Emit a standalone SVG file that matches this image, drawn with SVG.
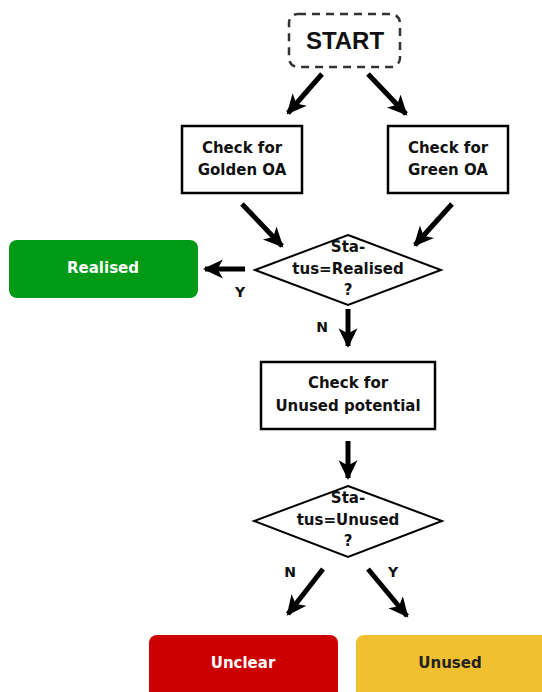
<svg xmlns="http://www.w3.org/2000/svg" width="542" height="692" viewBox="0 0 542 692">
<style>
text{font-family:"DejaVu Sans","Liberation Sans",sans-serif;font-weight:bold;text-anchor:middle;dominant-baseline:central;}
.t{font-size:15px;fill:#111;}
.box{fill:#fff;stroke:#000;stroke-width:2.5;}
.dia{fill:#fff;stroke:#000;stroke-width:2;}
.lbl{font-size:14px;fill:#111;}
.conn line{stroke:#000;stroke-width:5;marker-end:url(#ah);}
.w{fill:#fff;font-size:15px;}
</style>
<defs>
<marker id="ah" markerUnits="userSpaceOnUse" viewBox="0 0 20 20" refX="17" refY="10" markerWidth="21" markerHeight="21" orient="auto">
<path d="M0,1 L19,10 L0,19 L5,10 Z" fill="#000"/>
</marker>
</defs>
<g id="start">
<rect x="289" y="14" width="111" height="53" rx="9" fill="#fff" stroke="#333" stroke-width="2.5" stroke-dasharray="8,6"/>
<text x="345" y="40" style="font-size:24px;font-family:'Liberation Sans',Arial,sans-serif" fill="#111">START</text>
</g>
<g id="golden">
<rect class="box" x="182" y="126" width="120" height="67"/>
<text class="t" x="242" y="148">Check for</text>
<text class="t" x="242" y="170">Golden OA</text>
</g>
<g id="green">
<rect class="box" x="388" y="126" width="120" height="67"/>
<text class="t" x="448" y="148">Check for</text>
<text class="t" x="448" y="170">Green OA</text>
</g>
<g id="dec1">
<polygon class="dia" points="348,235 441,270 348,305 255,270"/>
<text class="t" x="348" y="247">Sta-</text>
<text class="t" x="348" y="269">tus=Realised</text>
<text class="t" x="348" y="290">?</text>
</g>
<g id="realised">
<rect x="9" y="240" width="189" height="58" rx="8" fill="#009a17"/>
<text class="w" x="103" y="268">Realised</text>
</g>
<g id="unusedcheck">
<rect class="box" x="261" y="362" width="174" height="67"/>
<text class="t" x="348" y="383">Check for</text>
<text class="t" x="348" y="406">Unused potential</text>
</g>
<g id="dec2">
<polygon class="dia" points="348,486 442,521 348,557 254,521"/>
<text class="t" x="348" y="498">Sta-</text>
<text class="t" x="348" y="520">tus=Unused</text>
<text class="t" x="348" y="541">?</text>
</g>
<g id="unclear">
<rect x="149" y="635" width="189" height="70" rx="8" fill="#cc0000"/>
<text class="w" x="243" y="663">Unclear</text>
</g>
<g id="unused">
<rect x="356" y="635" width="200" height="70" rx="8" fill="#f0c030"/>
<text x="450" y="663" style="font-size:15px" fill="#222">Unused</text>
</g>
<g class="conn" id="connectors">
<line x1="322" y1="74" x2="288" y2="113"/>
<line x1="368" y1="74" x2="406" y2="114"/>
<line x1="242" y1="204" x2="282" y2="246"/>
<line x1="452" y1="204" x2="415" y2="245"/>
<line x1="245" y1="269" x2="205" y2="269"/>
<line x1="348" y1="309" x2="348" y2="346"/>
<line x1="348" y1="441" x2="348" y2="478"/>
<line x1="323" y1="569" x2="288" y2="614"/>
<line x1="368" y1="569" x2="407" y2="616"/>
</g>
<g id="labels">
<text class="lbl" x="240" y="292">Y</text>
<text class="lbl" x="322" y="327">N</text>
<text class="lbl" x="290" y="572">N</text>
<text class="lbl" x="393" y="572">Y</text>
</g>
</svg>
